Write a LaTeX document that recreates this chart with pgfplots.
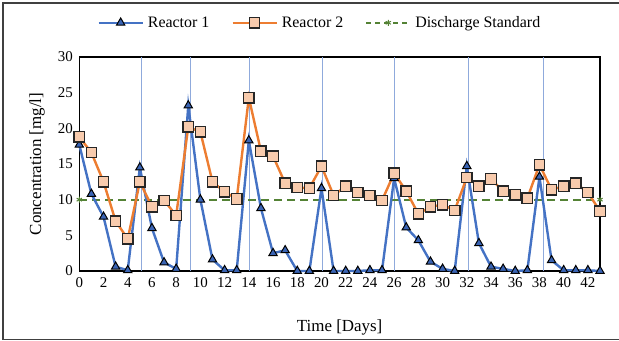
\documentclass[border=0pt]{standalone}
\usepackage{fontspec}
\setmainfont{Liberation Serif}
\usepackage{pgfplots}
\pgfplotsset{compat=1.18}
\definecolor{rone}{RGB}{68,114,196}
\definecolor{ronefill}{RGB}{58,100,180}
\definecolor{rtwo}{RGB}{237,125,49}
\definecolor{rtwofill}{RGB}{248,203,173}
\definecolor{dstd}{RGB}{84,130,53}
\definecolor{vline}{RGB}{143,170,220}
\definecolor{frame}{RGB}{64,64,64}
\pgfplotstableread{
x y
0 17.7
1 10.8
2 7.6
3 0.6
4 0.1
5 14.5
6 6.0
7 1.2
8 0.3
9 23.2
10 10.0
11 1.6
12 0.1
13 0.1
14 18.3
15 8.8
16 2.5
17 2.9
18 0.0
19 0.0
20 11.6
21 0.0
22 0.0
23 0.0
24 0.1
25 0.1
26 13.0
27 6.1
28 4.3
29 1.3
30 0.3
31 0.0
32 14.7
33 3.9
34 0.6
35 0.3
36 0.0
37 0.1
38 13.2
39 1.5
40 0.1
41 0.1
42 0.1
43 0.0
}\reactorone
\pgfplotstableread{
x y
0 18.8
1 16.6
2 12.5
3 7.0
4 4.5
5 12.5
6 9.0
7 9.9
8 7.8
9 20.2
10 19.5
11 12.5
12 11.1
13 10.1
14 24.3
15 16.8
16 16.1
17 12.3
18 11.7
19 11.6
20 14.7
21 10.6
22 11.9
23 11.0
24 10.6
25 9.9
26 13.7
27 11.2
28 8.0
29 9.0
30 9.3
31 8.5
32 13.1
33 11.9
34 12.9
35 11.2
36 10.7
37 10.2
38 14.9
39 11.4
40 11.9
41 12.3
42 11.0
43 8.4
}\reactortwo
\begin{document}
\begin{tikzpicture}
\useasboundingbox (-79.3bp,-70bp) rectangle (539.7bp,271bp);
\draw[frame, line width=1.5bp] (560bp,268bp) -- (-76.3bp,268bp) -- (-76.3bp,-68.5bp) -- (560bp,-68.5bp);
\begin{axis}[
  at={(0,0)}, anchor=south west,
  scale only axis, width=520.7bp, height=214bp,
  xmin=0, xmax=43, ymin=0, ymax=30,
  xtick={0,2,...,42}, ytick={0,5,...,30},
  major tick length=0pt,
  axis line style={black, line width=1.1bp},
  tick label style={font=\rmfamily\fontsize{15}{17}\selectfont},
  /pgf/number format/assume math mode=true,
  xticklabel style={yshift=-3bp},
  yticklabel style={xshift=-3bp},
  xlabel={Time [Days]},
  ylabel={Concentration [mg/l]},
  label style={font=\rmfamily\fontsize{17}{19}\selectfont},
  xlabel style={at={(axis description cs:0.5,-0.262)}, anchor=center},
  ylabel style={at={(axis description cs:-0.081,0.5)}, anchor=center},
  clip=false,
  legend style={draw=none, fill=none, font=\rmfamily\fontsize{16}{18}\selectfont,
    at={(axis description cs:0.462,1.16)}, anchor=center,
    legend columns=-1, /tikz/every odd column/.style={column sep=2bp},
    /tikz/every even column/.style={column sep=20bp}},
  legend image code/.code={
    \draw[mark repeat=2, mark phase=2, #1] plot coordinates {(0bp,0bp) (22bp,0bp) (44bp,0bp)};
  },
]
\addplot[vline, line width=1bp, forget plot] coordinates {(5.1,0) (5.1,30)};
\addplot[vline, line width=1bp, forget plot] coordinates {(9.2,0) (9.2,30)};
\addplot[vline, line width=1bp, forget plot] coordinates {(14.05,0) (14.05,30)};
\addplot[vline, line width=1bp, forget plot] coordinates {(20.1,0) (20.1,30)};
\addplot[vline, line width=1bp, forget plot] coordinates {(26.05,0) (26.05,30)};
\addplot[vline, line width=1bp, forget plot] coordinates {(32.15,0) (32.15,30)};
\addplot[vline, line width=1bp, forget plot] coordinates {(38.3,0) (38.3,30)};
\addplot[dstd, line width=2bp, dash pattern=on 8bp off 5bp, mark=asterisk, mark size=3bp,
  mark options={solid, line width=1bp}, forget plot] coordinates {(0,10) (43,10)};
\addplot[rone, line width=2.4bp, mark=triangle*, mark size=4.8bp,
  mark options={fill=ronefill, draw=black, line width=1bp, solid}] table[x=x,y=y] {\reactorone};
\addlegendentry{Reactor 1}
\addplot[rtwo, line width=2.4bp, mark=square*, mark size=5.2bp,
  mark options={fill=rtwofill, draw=black!85, line width=1.3bp, solid}] table[x=x,y=y] {\reactortwo};
\addlegendentry{Reactor 2}
\addlegendimage{dstd, line width=2bp, dash pattern=on 5bp off 4bp, mark=asterisk, mark size=3bp, mark options={solid, line width=1bp}}
\addlegendentry{Discharge Standard}
\end{axis}
\end{tikzpicture}
\end{document}
